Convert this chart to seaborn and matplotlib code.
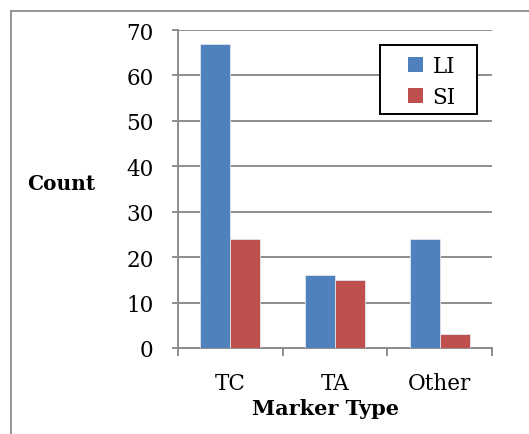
import pandas as pd
import matplotlib
matplotlib.use("Agg")
import matplotlib.pyplot as plt
from matplotlib.lines import Line2D
from matplotlib.patches import Rectangle
import seaborn as sns

# Data
categories = ["TC", "TA", "Other"]
li_counts = [67, 16, 24]
si_counts = [24, 15, 3]
series_names = ["LI", "SI"]

df = pd.DataFrame({
    "Marker Type": categories * 2,
    "Count": li_counts + si_counts,
    "Series": [series_names[0]] * 3 + [series_names[1]] * 3,
})

sns.set_style("white")
plt.rcParams["font.family"] = ["DejaVu Serif"]
plt.rcParams["text.color"] = "black"
plt.rcParams["xtick.labelcolor"] = "black"
plt.rcParams["ytick.labelcolor"] = "black"

W, H = 529, 435
fig = plt.figure(figsize=(W / 100, H / 100), dpi=100)

# plot area in pixel terms
x0, x1, y0, y1 = 178, 492, 349, 31
ax = fig.add_axes([x0 / W, 1 - y0 / H, (x1 - x0) / W, (y0 - y1) / H])

grid_col = "#8c8c8c"
sns.barplot(data=df, x="Marker Type", y="Count", hue="Series", ax=ax,
            palette=["#4f81bd", "#c0504d"], width=0.575, saturation=1,
            edgecolor="#dfe6f0", linewidth=0.6, zorder=3)

ax.set_xlim(-0.5, 2.5)
ax.set_ylim(0, 70)
ax.set_yticks(range(0, 71, 10))
ax.yaxis.grid(True, color=grid_col, linewidth=1.4, zorder=0)
ax.set_axisbelow(True)
for s in ["top", "right"]:
    ax.spines[s].set_visible(False)
for s in ["left", "bottom"]:
    ax.spines[s].set_color(grid_col)
    ax.spines[s].set_linewidth(1.4)

ax.tick_params(axis="y", left=True, direction="out", length=4.5, width=1.4,
               color=grid_col, pad=13, labelsize=15.5)
ax.set_xticks(range(len(categories)))
ax.set_xticklabels(categories)
ax.tick_params(axis="x", which="major", bottom=True, length=0, pad=17,
               labelsize=15.5)
ax.set_xticks([-0.5, 0.5, 1.5, 2.5], minor=True)
ax.tick_params(axis="x", which="minor", bottom=True, direction="out",
               length=5.8, width=1.4, color=grid_col)
ax.set_xlabel("")
ax.set_ylabel("")

fig.text(61 / W, 1 - 184 / H, "Count", fontsize=14.5, fontweight="bold",
         ha="center", va="center")
fig.text(326 / W, 1 - 409 / H, "Marker Type", fontsize=15, fontweight="bold",
         ha="center", va="center")

# legend box drawn separately so it can be wider than the entries
ax.add_patch(Rectangle((380 / W, 1 - 115 / H), 97 / W, 69 / H,
                       transform=fig.transFigure, facecolor="white",
                       edgecolor="black", linewidth=1.4, zorder=4,
                       clip_on=False))
leg = ax.legend(loc="upper left", bbox_to_anchor=(404 / W, 1 - 52 / H),
                bbox_transform=fig.transFigure, frameon=False,
                fontsize=15.5, handlelength=0.68, handleheight=0.68,
                handletextpad=0.45, borderpad=0.2, labelspacing=0.42,
                borderaxespad=0)
leg.set_zorder(6)
for h in leg.legend_handles:
    h.set_edgecolor("none")

# outer chart border (left and top edges visible)
fig.add_artist(Line2D([11 / W, 11 / W], [0, 1 - 12 / H], transform=fig.transFigure,
                      color="#8c8c8c", linewidth=1.3))
fig.add_artist(Line2D([11 / W, 1], [1 - 12 / H, 1 - 12 / H], transform=fig.transFigure,
                      color="#8c8c8c", linewidth=1.3))

fig.savefig("out.png", dpi=100)
